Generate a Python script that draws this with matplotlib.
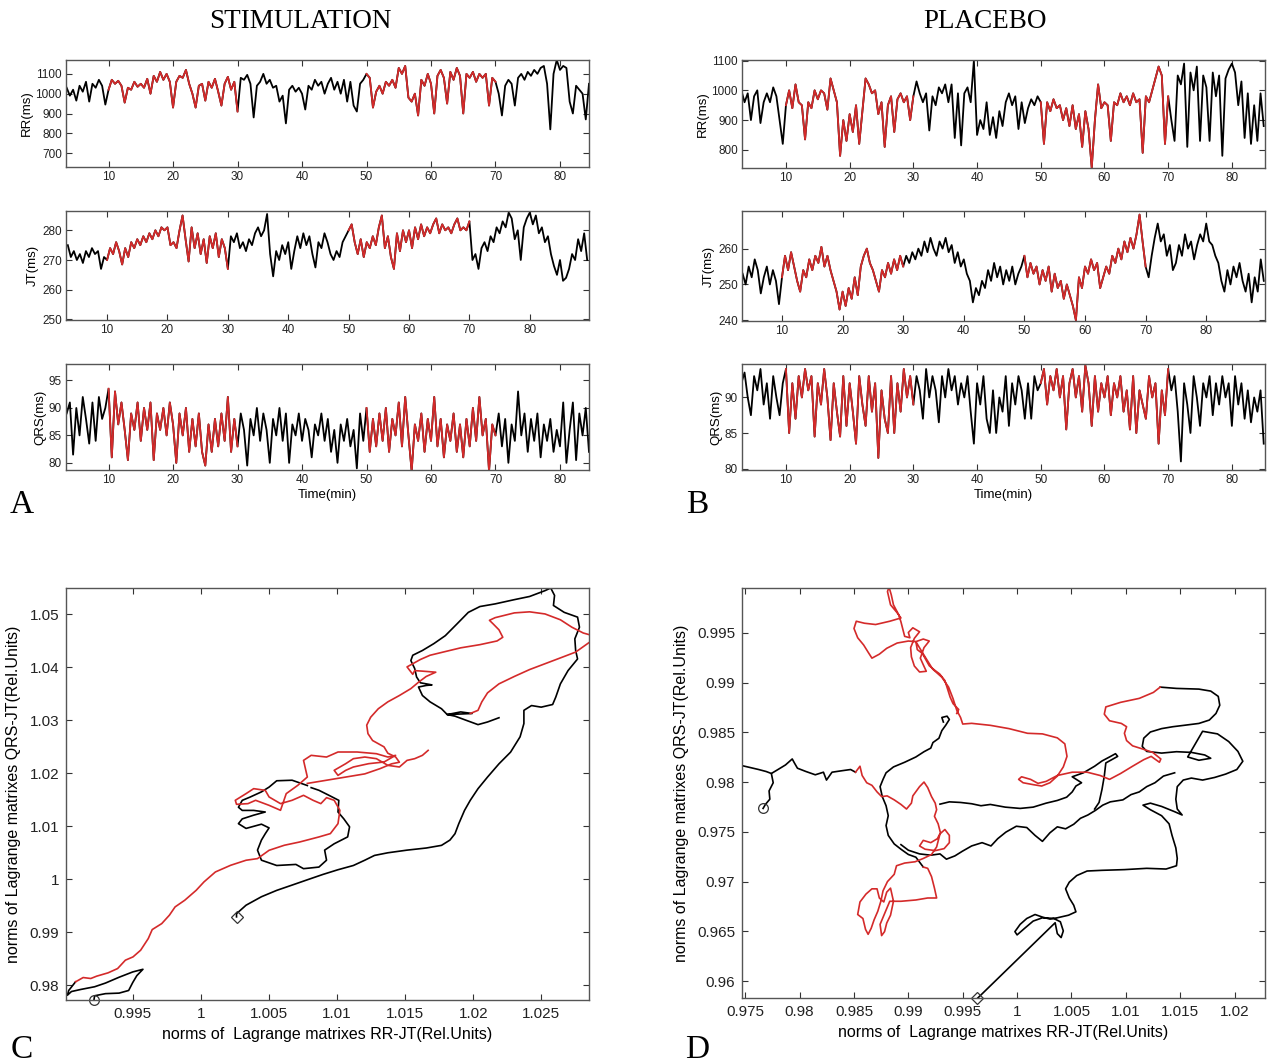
import numpy as np
import matplotlib
matplotlib.use("Agg")
import matplotlib.pyplot as plt
from matplotlib.ticker import FuncFormatter

plt.rcParams['font.family'] = ['Liberation Sans', 'DejaVu Sans']

RED = '#d42a2a'
red_windows = [(10, 30), (50, 70)]   # stimulation / placebo periods drawn in red

t0_rr_a, t0_jt_a, t0_qrs_a = 3.5, 3.5, 3.5
rr_a = [1030, 990, 1020, 965, 1040, 1010, 1060, 960, 1050, 1030, 1070, 1040, 945,
        1020, 1070, 1050, 1065, 1040, 955, 1030, 1020, 1060, 1035, 1050, 1030, 1075, 1000, 1090, 1060, 1110, 1070, 1100, 1060,
        930, 1060, 1090, 1080, 1120, 1050, 1000, 930, 1040, 1050, 965, 1060, 1030, 1075, 1010, 940, 1050, 1085, 1020, 1060,
        910, 1080, 1070, 1095, 1050, 880, 1040, 1060, 1100, 1050, 1070, 1030, 1040, 960, 990, 850, 1020, 1040, 1010, 1030,
        1000, 920, 1040, 1020, 1070, 1040, 1060, 1000, 1050, 1080, 1020, 1060, 1000, 1070, 960, 1060, 940, 910, 1050, 1070,
        1100, 1080, 930, 1010, 1040, 1000, 1060, 1040, 1070, 1030, 1130, 1100, 1140, 980, 960, 1000, 890, 1070, 1040, 1100,
        1050, 900, 1090, 1120, 1080, 950, 1110, 1070, 1130, 1090, 900, 1100, 1080, 1110, 1060, 1100, 1080, 1100, 940, 1080,
        1060, 1000, 890, 1040, 1070, 1050, 940, 1080, 1100, 1070, 1110, 1090, 1120, 1100, 1130, 1140, 1050, 820, 1100, 1170,
        1120, 1140, 1130, 960, 900, 1040, 1020, 1000, 870, 1050]
jt_a = [275, 271, 273, 270, 272, 269, 273, 271, 274, 272, 273, 267, 271,
        270, 274, 272, 276, 273, 268.5, 274, 271, 276, 274, 277, 275, 278, 276, 279, 277, 280, 278, 281, 280,
        281, 275, 276, 274, 280, 285, 277, 269.5, 281, 274, 279, 272, 277, 269, 278, 274, 279, 271, 277, 274,
        267, 278, 276, 279, 274, 276, 273, 277, 275, 279, 281, 278, 280, 285.5, 272, 264.5, 273, 270, 275, 272,
        276, 267, 273, 278, 274, 279, 275, 278, 272, 267.5, 276, 274, 279, 276, 272, 270, 273, 271, 276, 278,
        280, 282, 276, 272, 277, 271, 276, 274, 278, 275, 281, 285, 274, 278, 271, 267, 279, 273, 280, 276,
        280, 274, 281, 277, 282, 278, 281, 279, 282, 284, 279, 282, 280, 281, 279, 282, 284, 280, 281, 280,
        283, 270, 272, 267, 274, 276, 273, 278, 276, 281, 279, 283, 281, 286, 284, 277, 280, 270, 281, 284,
        286, 282, 285, 279, 281, 276, 278, 272, 268, 265, 270, 263, 264, 267, 272, 270, 277, 273, 279, 270]
qrs_a = [89, 91, 81.5, 90, 85, 92, 88, 83.5, 91, 84, 92, 88, 90,
         93.5, 81, 93, 87, 91, 86, 80.5, 89, 86, 91, 84, 90, 86, 91, 80.5, 89, 86, 90, 85, 91,
         87, 80, 89, 85, 90, 82, 88, 83, 89, 82, 79.5, 87, 82, 88, 83, 89, 84, 92, 82, 88,
         83, 89, 86, 79.5, 88, 85, 90, 84, 89, 86, 80, 88, 85, 90, 84, 89, 80, 87, 85, 89,
         84, 88, 86, 81, 87, 85, 89, 84, 88, 82, 86, 80, 87, 84, 88, 83, 86, 79, 89, 84,
         90, 82, 88, 83, 89, 84, 90, 82, 88, 85, 91, 83, 92, 85, 78.5, 87, 84, 89, 82, 88,
         84, 92, 83, 88, 81, 87, 84, 89, 82, 87, 81, 88, 83, 90, 84, 92, 85, 88, 78.5, 87,
         85, 89, 83, 88, 80, 87, 84, 93, 85, 89, 82, 88, 84, 89, 81, 87, 84, 88, 82, 86,
         83, 91, 80, 86, 91, 80.5, 89, 85, 90, 82]

t0_rr_b, t0_jt_b, t0_qrs_b = 3.0, 3.5, 3.0
rr_b = [1000, 960, 990, 900, 980, 1000, 890, 960, 990, 960, 1010, 980, 900, 820,
        950, 1000, 940, 1020, 960, 950, 835, 960, 940, 1000, 970, 1000, 990, 935, 1040, 1000, 960, 780, 900, 830,
        920, 860, 950, 820, 930, 1040, 1020, 990, 1000, 920, 960, 810, 950, 980, 860, 970, 990, 960, 980, 900,
        980, 1030, 990, 960, 990, 865, 980, 950, 1010, 990, 1020, 960, 1020, 840, 990, 815, 990, 1010, 960, 1100,
        850, 900, 870, 960, 850, 910, 840, 930, 880, 960, 990, 950, 980, 870, 960, 890, 940, 970, 950, 980,
        960, 820, 960, 930, 970, 940, 950, 900, 940, 880, 950, 870, 920, 810, 930, 870, 740, 900, 1020, 940,
        960, 950, 830, 960, 950, 990, 960, 980, 950, 990, 960, 970, 790, 980, 960, 1000, 1040, 1080, 1050, 820,
        980, 900, 830, 1050, 1020, 1090, 810, 1060, 1000, 1080, 830, 1050, 1010, 830, 1060, 980, 1050, 780, 1040, 1070,
        1090, 1060, 950, 1030, 840, 990, 820, 950, 830, 990, 880]
jt_b = [253, 250, 255, 252, 257, 254, 247.5, 252, 255, 250, 254, 251, 244.5,
        252, 258, 254, 259, 255, 251, 248, 254, 252, 257, 254, 258, 256, 260.5, 255, 258, 254, 251, 248, 243,
        248, 244, 249, 246, 252, 247, 255, 258, 260, 256, 254, 251, 248, 254, 252, 256, 253, 257, 254, 258,
        255, 258, 256, 259, 257, 260, 258, 262, 259, 263, 260, 258, 262, 260, 263, 259, 261, 256, 259, 255,
        257, 253, 251, 245, 249, 247, 251, 249, 254, 251, 256, 252, 255, 250, 254, 251, 255, 250, 253, 255,
        258, 252, 256, 253, 255, 250, 254, 251, 255, 248, 253, 249, 251, 246, 250, 247, 244, 240, 252, 249,
        255, 253, 257, 254, 256, 249, 252, 255, 253, 258, 256, 260, 257, 262, 259, 263, 260, 264, 269.5, 262,
        255, 252, 258, 263, 267, 262, 264, 258, 261, 254, 256, 261, 258, 264, 260, 262, 257, 261, 264, 262,
        267, 262, 261, 258, 256, 251, 248, 254, 250, 255, 252, 256, 251, 248, 253, 245, 252, 248, 257, 251]
qrs_b = [92, 93.5, 90, 87.5, 93, 91, 94, 89, 92, 87, 93, 90, 87.5, 92,
         94, 85, 92, 87, 93, 90, 94, 91, 93, 84.5, 92, 89, 94, 90, 84, 92, 88, 84.5, 93, 86,
         92, 88, 83.5, 93, 89, 86, 93, 88, 92, 81.5, 91, 87, 85, 93, 85, 92, 88, 94, 90, 93,
         89, 93, 91, 87, 94, 90, 93, 91, 86.5, 93, 90, 94, 91, 93, 89, 92, 90, 93, 88, 83.5,
         92, 89, 93, 87, 85, 91, 85, 90, 88, 93, 86, 92, 89, 93, 91, 87, 92, 87, 93, 91,
         92, 94, 89, 93, 91, 94, 90, 93, 85.5, 92, 94, 90, 93, 88, 94.5, 92, 86, 93, 88, 92,
         90, 93, 87.5, 92, 90, 93, 88, 91, 85.5, 93, 85, 91, 89, 87, 93, 90, 92, 83.5, 91, 87.5,
         94, 91, 93, 88, 81, 92, 89, 85, 93, 90, 86, 92, 90, 93, 87.5, 92, 89, 93, 90, 92,
         86, 93, 89, 92, 87, 91, 86.5, 90, 88, 91, 83.5]

# ---- phase trajectories (x = norm RR-JT, y = norm QRS-JT) ----
c_black1 = [(0.99215, 0.97715), (0.99220, 0.97800), (0.99300, 0.97840), (0.99400, 0.97850), (0.99470, 0.97900),
            (0.99500, 0.98050), (0.99530, 0.98180), (0.99575, 0.98300), (0.99500, 0.98250), (0.99400, 0.98150),
            (0.99300, 0.98040), (0.99220, 0.97970), (0.99120, 0.97920), (0.99050, 0.97880), (0.99020, 0.97810),
            (0.99030, 0.97900), (0.99080, 0.98063)]
c_red1 = [(0.99080, 0.98063), (0.99136, 0.98144), (0.99192, 0.98126), (0.99235, 0.98170), (0.99319, 0.98233),
          (0.99389, 0.98314), (0.99446, 0.98472), (0.99502, 0.98534), (0.99558, 0.98660), (0.99614, 0.98880),
          (0.99643, 0.99050), (0.99713, 0.99163), (0.99769, 0.99321), (0.99811, 0.99478), (0.99882, 0.99604),
          (0.99966, 0.99792), (1.00023, 0.99950), (1.00107, 1.00138), (1.00219, 1.00264), (1.00332, 1.00359),
          (1.00416, 1.00390), (1.00501, 1.00547), (1.00613, 1.00642), (1.00726, 1.00704), (1.00867, 1.00799),
          (1.00951, 1.00862), (1.01007, 1.01050), (1.01021, 1.01302), (1.00979, 1.01491), (1.00923, 1.01541),
          (1.00881, 1.01428), (1.00824, 1.01491), (1.00754, 1.01585), (1.00670, 1.01491), (1.00585, 1.01428),
          (1.00501, 1.01554), (1.00473, 1.01679), (1.00388, 1.01711), (1.00332, 1.01617), (1.00253, 1.01491),
          (1.00262, 1.01415), (1.00346, 1.01428), (1.00402, 1.01491), (1.00501, 1.01396), (1.00585, 1.01302),
          (1.00627, 1.01617), (1.00712, 1.01774), (1.00782, 1.01931), (1.00754, 1.02245), (1.00810, 1.02340),
          (1.00923, 1.02308), (1.01007, 1.02403), (1.01148, 1.02403), (1.01289, 1.02371), (1.01373, 1.02308),
          (1.01430, 1.02340), (1.01345, 1.02214), (1.01233, 1.02183), (1.01120, 1.02120), (1.01064, 1.02057),
          (1.01007, 1.01962), (1.00979, 1.02057), (1.01064, 1.02183), (1.01120, 1.02277), (1.01204, 1.02308),
          (1.01289, 1.02277), (1.01373, 1.02151), (1.01458, 1.02120), (1.01514, 1.02245), (1.01570, 1.02277),
          (1.01627, 1.02340), (1.01669, 1.02434)]
c_black2 = [(1.00782, 1.0177), (1.00670, 1.0187), (1.00557, 1.0186), (1.00501, 1.0174), (1.00445, 1.0165),
            (1.00360, 1.0155), (1.00304, 1.0149), (1.00276, 1.0136), (1.00304, 1.0130), (1.00388, 1.0130),
            (1.00473, 1.0127), (1.00388, 1.0121), (1.00304, 1.0114), (1.00276, 1.0105), (1.00332, 1.0096),
            (1.00445, 1.0104), (1.00501, 1.0097), (1.00473, 1.0086), (1.00445, 1.0074), (1.00416, 1.0055),
            (1.00445, 1.0036), (1.00557, 1.0026), (1.00698, 1.0028), (1.00754, 1.0020), (1.00867, 1.0023),
            (1.00923, 1.0036), (1.00909, 1.0055), (1.00979, 1.0067), (1.01078, 1.0080), (1.01092, 1.0099),
            (1.01050, 1.0114), (1.01007, 1.0127), (1.01013, 1.0149), (1.00937, 1.0159), (1.00867, 1.0168),
            (1.00810, 1.0173)]
c_red2 = [(1.00782, 1.0181), (1.00923, 1.0187), (1.01064, 1.0193), (1.01204, 1.0199), (1.01317, 1.0209),
          (1.01401, 1.0218), (1.01458, 1.0221), (1.01430, 1.0231), (1.01373, 1.0238), (1.01345, 1.0250),
          (1.01261, 1.0262), (1.01227, 1.0275), (1.01218, 1.0291), (1.01247, 1.0306), (1.01303, 1.0322),
          (1.01373, 1.0335), (1.01458, 1.0347), (1.01542, 1.0360), (1.01598, 1.0372), (1.01655, 1.0383),
          (1.01725, 1.0391), (1.01627, 1.0393), (1.01570, 1.0394), (1.01556, 1.0387), (1.01514, 1.0401),
          (1.01556, 1.0407), (1.01612, 1.0415), (1.01683, 1.0423), (1.01795, 1.0430), (1.01908, 1.0437),
          (1.02049, 1.0443), (1.02175, 1.0450), (1.02217, 1.0457), (1.02189, 1.0471), (1.02147, 1.0482),
          (1.02119, 1.0489), (1.02161, 1.0494), (1.02302, 1.0503), (1.02414, 1.0505), (1.02527, 1.0501),
          (1.02640, 1.0490), (1.02724, 1.0476), (1.02808, 1.0465), (1.02920, 1.0457), (1.02856, 1.0448),
          (1.02752, 1.0429), (1.02640, 1.0418), (1.02527, 1.0407), (1.02414, 1.0396), (1.02302, 1.0383),
          (1.02189, 1.0369), (1.02105, 1.0352), (1.02063, 1.0335), (1.02035, 1.0319), (1.01978, 1.0313)]
c_black3 = [(1.02189, 1.0305), (1.02105, 1.0297), (1.02035, 1.0292), (1.01950, 1.0300), (1.01866, 1.0308),
            (1.01809, 1.0311), (1.01908, 1.0316), (1.01992, 1.0313), (1.01809, 1.0311), (1.01767, 1.0322),
            (1.01683, 1.0335), (1.01627, 1.0347), (1.01598, 1.0363), (1.01655, 1.0366), (1.01697, 1.0367),
            (1.01612, 1.0371), (1.01584, 1.0382), (1.01570, 1.0398), (1.01542, 1.0413), (1.01556, 1.0423),
            (1.01627, 1.0432), (1.01711, 1.0445), (1.01795, 1.0460), (1.01880, 1.0482), (1.01964, 1.0504),
            (1.02049, 1.0515), (1.02161, 1.0520), (1.02302, 1.0528), (1.02414, 1.0534), (1.02527, 1.0545),
            (1.02569, 1.0550), (1.02597, 1.0536), (1.02589, 1.0517), (1.02668, 1.0504), (1.02766, 1.0495),
            (1.02780, 1.0476), (1.02746, 1.0454), (1.02752, 1.0432), (1.02766, 1.0416), (1.02696, 1.0394),
            (1.02640, 1.0369), (1.02606, 1.0344), (1.02583, 1.0330), (1.02499, 1.0325), (1.02428, 1.0328),
            (1.02372, 1.0319), (1.02372, 1.0294), (1.02344, 1.0269), (1.02274, 1.0240), (1.02189, 1.0218),
            (1.02105, 1.0193), (1.02035, 1.0171), (1.01978, 1.0149), (1.01936, 1.0130), (1.01894, 1.0105),
            (1.01866, 1.0086), (1.01829, 1.0074), (1.01767, 1.0064), (1.01655, 1.0059), (1.01514, 1.0055),
            (1.01373, 1.0050), (1.01275, 1.0045), (1.01204, 1.0036), (1.01120, 1.0026), (1.01007, 1.0018),
            (1.00895, 1.0009), (1.00782, 0.9999), (1.00670, 0.9989), (1.00557, 0.9979), (1.00445, 0.9967),
            (1.00332, 0.9951), (1.00262, 0.9935), (1.00262, 0.9929)]

d_black1a = [(0.97664, 0.97735), (0.97685, 0.97775), (0.97726, 0.97828), (0.97719, 0.97911), (0.97757, 0.97993),
             (0.97740, 0.98086), (0.97801, 0.98126), (0.97870, 0.98172), (0.97932, 0.98232), (0.97952, 0.98192),
             (0.97980, 0.98139), (0.98058, 0.98106), (0.98144, 0.98073), (0.98219, 0.98099), (0.98247, 0.98020),
             (0.98298, 0.98099), (0.98384, 0.98113), (0.98469, 0.98126), (0.98514, 0.98099)]
d_black1b = [(0.97466, 0.98166), (0.97545, 0.98146), (0.97623, 0.98126), (0.97692, 0.98106), (0.97740, 0.98086)]
d_red1 = [(0.98514, 0.98099), (0.98555, 0.98159), (0.98575, 0.98066), (0.98617, 0.97993), (0.98665, 0.97967),
          (0.98712, 0.97901), (0.98754, 0.97854), (0.98805, 0.97861), (0.98870, 0.97821), (0.98932, 0.97775),
          (0.98983, 0.97729), (0.99028, 0.97788), (0.99041, 0.97861), (0.99103, 0.97954), (0.99144, 0.98000),
          (0.99178, 0.97944), (0.99213, 0.97854), (0.99247, 0.97788), (0.99260, 0.97722), (0.99240, 0.97656),
          (0.99274, 0.97580), (0.99295, 0.97490), (0.99267, 0.97431), (0.99206, 0.97391), (0.99137, 0.97414),
          (0.99103, 0.97358), (0.99154, 0.97325), (0.99247, 0.97311), (0.99329, 0.97331), (0.99377, 0.97391),
          (0.99377, 0.97464), (0.99336, 0.97523), (0.99291, 0.97480), (0.99260, 0.97348), (0.99213, 0.97272),
          (0.99137, 0.97232), (0.99062, 0.97199), (0.98966, 0.97186), (0.98891, 0.97159), (0.98870, 0.97073),
          (0.98808, 0.97000), (0.98767, 0.96907), (0.98747, 0.96802), (0.98719, 0.96702), (0.98685, 0.96616),
          (0.98658, 0.96530), (0.98630, 0.96470), (0.98606, 0.96520), (0.98582, 0.96629), (0.98534, 0.96669),
          (0.98555, 0.96795), (0.98610, 0.96874), (0.98665, 0.96927), (0.98712, 0.96927), (0.98733, 0.96835),
          (0.98774, 0.96795), (0.98801, 0.96894), (0.98836, 0.96934), (0.98863, 0.96802), (0.98836, 0.96662),
          (0.98801, 0.96583), (0.98781, 0.96497), (0.98754, 0.96457), (0.98740, 0.96570), (0.98829, 0.96802),
          (0.98932, 0.96802), (0.99069, 0.96815), (0.99178, 0.96835), (0.99260, 0.96835), (0.99240, 0.96934),
          (0.99213, 0.97050), (0.99178, 0.97133), (0.99137, 0.97146)]
d_black2 = [(0.99137, 0.97146), (0.99069, 0.97245), (0.99000, 0.97272), (0.98932, 0.97325), (0.98870, 0.97378),
            (0.98815, 0.97464), (0.98795, 0.97563), (0.98815, 0.97662), (0.98795, 0.97762), (0.98760, 0.97854),
            (0.98740, 0.97954), (0.98767, 0.98027), (0.98795, 0.98093), (0.98863, 0.98152), (0.98966, 0.98199),
            (0.99069, 0.98252), (0.99144, 0.98305), (0.99206, 0.98341), (0.99226, 0.98397), (0.99281, 0.98440),
            (0.99308, 0.98517), (0.99343, 0.98570), (0.99377, 0.98629), (0.99356, 0.98662), (0.99308, 0.98649),
            (0.99322, 0.98603)]
d_red2 = [(0.99445, 0.98689), (0.99463, 0.98729), (0.99411, 0.98788), (0.99384, 0.98854), (0.99360, 0.98937),
          (0.99336, 0.99020), (0.99288, 0.99086), (0.99240, 0.99126), (0.99192, 0.99169), (0.99158, 0.99235),
          (0.99130, 0.99291), (0.99082, 0.99331), (0.99069, 0.99411), (0.99137, 0.99437), (0.99192, 0.99417),
          (0.99144, 0.99351), (0.99110, 0.99245), (0.99137, 0.99179), (0.99165, 0.99113), (0.99103, 0.99106),
          (0.99055, 0.99166), (0.99028, 0.99258), (0.99021, 0.99351), (0.99055, 0.99444), (0.99103, 0.99510),
          (0.99041, 0.99550), (0.99000, 0.99503), (0.99014, 0.99450), (0.98966, 0.99464), (0.98932, 0.99609),
          (0.98911, 0.99682), (0.98863, 0.99781), (0.98843, 0.99881), (0.98822, 0.99960), (0.98808, 0.99914),
          (0.98836, 0.99781), (0.98891, 0.99709), (0.98932, 0.99649), (0.98829, 0.99616), (0.98699, 0.99583),
          (0.98596, 0.99596), (0.98521, 0.99616), (0.98500, 0.99543), (0.98534, 0.99450), (0.98589, 0.99377),
          (0.98630, 0.99305), (0.98665, 0.99245), (0.98733, 0.99285), (0.98801, 0.99344), (0.98897, 0.99397),
          (0.99000, 0.99417), (0.99069, 0.99411), (0.99130, 0.99300), (0.99223, 0.99136), (0.99308, 0.99053),
          (0.99370, 0.98954), (0.99411, 0.98838), (0.99445, 0.98722), (0.99480, 0.98649), (0.99500, 0.98583),
          (0.99582, 0.98590), (0.99754, 0.98570), (0.99925, 0.98537), (1.00096, 0.98490), (1.00233, 0.98484),
          (1.00370, 0.98444), (1.00439, 0.98384), (1.00459, 0.98258), (1.00425, 0.98152), (1.00370, 0.98060),
          (1.00302, 0.97993), (1.00226, 0.97960), (1.00148, 0.97974), (1.00055, 0.97993), (1.00014, 0.98027),
          (1.00041, 0.98053), (1.00124, 0.98027), (1.00192, 0.97987), (1.00268, 0.98007), (1.00370, 0.98066),
          (1.00507, 0.98099), (1.00644, 0.98099), (1.00764, 0.98066), (1.00850, 0.98027), (1.00952, 0.98086),
          (1.01062, 0.98159), (1.01165, 0.98225), (1.01233, 0.98258), (1.01309, 0.98199), (1.01322, 0.98232),
          (1.01247, 0.98298), (1.01158, 0.98331), (1.01062, 0.98364), (1.01007, 0.98417), (1.00987, 0.98490),
          (1.01007, 0.98556), (1.00959, 0.98589), (1.00850, 0.98616), (1.00802, 0.98682), (1.00816, 0.98755),
          (1.00952, 0.98801), (1.01124, 0.98841), (1.01254, 0.98901), (1.01316, 0.98954)]
d_black3 = [(1.01316, 0.98954), (1.01466, 0.98941), (1.01672, 0.98934), (1.01781, 0.98914), (1.01850, 0.98861),
            (1.01864, 0.98772), (1.01829, 0.98689), (1.01768, 0.98623), (1.01672, 0.98589), (1.01535, 0.98570),
            (1.01432, 0.98556), (1.01329, 0.98537), (1.01226, 0.98503), (1.01165, 0.98441), (1.01151, 0.98358),
            (1.01192, 0.98308), (1.01329, 0.98291), (1.01466, 0.98305), (1.01603, 0.98298), (1.01726, 0.98272),
            (1.01781, 0.98239), (1.01672, 0.98219), (1.01569, 0.98252), (1.01706, 0.98510), (1.01843, 0.98484),
            (1.01946, 0.98407), (1.02031, 0.98308), (1.02076, 0.98209), (1.02021, 0.98126), (1.01918, 0.98080),
            (1.01816, 0.98046), (1.01706, 0.98020), (1.01603, 0.98040), (1.01528, 0.98020), (1.01473, 0.97954),
            (1.01460, 0.97828), (1.01473, 0.97729), (1.01518, 0.97669), (1.01449, 0.97702), (1.01329, 0.97755),
            (1.01226, 0.97788), (1.01158, 0.97768), (1.01226, 0.97722), (1.01329, 0.97662), (1.01398, 0.97580),
            (1.01425, 0.97464), (1.01460, 0.97338), (1.01473, 0.97232), (1.01466, 0.97159), (1.01370, 0.97126),
            (1.01192, 0.97133), (1.00987, 0.97120), (1.00781, 0.97113), (1.00644, 0.97106), (1.00548, 0.97060),
            (1.00480, 0.96994), (1.00446, 0.96927), (1.00480, 0.96835), (1.00521, 0.96762), (1.00541, 0.96696),
            (1.00473, 0.96662), (1.00370, 0.96636), (1.00302, 0.96623), (1.00233, 0.96643), (1.00165, 0.96669),
            (1.00089, 0.96629), (1.00028, 0.96570), (0.99980, 0.96497), (1.00000, 0.96464), (1.00069, 0.96530),
            (1.00148, 0.96603), (1.00233, 0.96636), (1.00336, 0.96630), (1.00398, 0.96596), (1.00425, 0.96504),
            (1.00405, 0.96437), (1.00370, 0.96477), (1.00350, 0.96586), (0.99634, 0.95825)]
d_black4 = [(0.99291, 0.97778), (0.99377, 0.97801), (0.99480, 0.97795), (0.99582, 0.97782), (0.99668, 0.97762),
            (0.99754, 0.97775), (0.99891, 0.97748), (1.00028, 0.97735), (1.00148, 0.97748), (1.00267, 0.97788),
            (1.00370, 0.97815), (1.00456, 0.97848), (1.00507, 0.97901), (1.00541, 0.97960), (1.00593, 0.97993),
            (1.00507, 0.98053), (1.00610, 0.98093), (1.00713, 0.98159), (1.00781, 0.98212), (1.00850, 0.98252),
            (1.00905, 0.98285), (1.00925, 0.98258), (1.00816, 0.98192), (1.00802, 0.98060), (1.00781, 0.97927),
            (1.00754, 0.97795), (1.00713, 0.97729)]
d_black5 = [(0.98932, 0.97371), (0.99000, 0.97315), (0.99103, 0.97278), (0.99206, 0.97265), (0.99291, 0.97278),
            (0.99350, 0.97225), (0.99428, 0.97258), (0.99497, 0.97305), (0.99582, 0.97358), (0.99678, 0.97391),
            (0.99760, 0.97358), (0.99822, 0.97431), (0.99897, 0.97497), (0.99993, 0.97556), (1.00089, 0.97543),
            (1.00165, 0.97464), (1.00233, 0.97404), (1.00302, 0.97490), (1.00370, 0.97550), (1.00446, 0.97530),
            (1.00521, 0.97576), (1.00583, 0.97636), (1.00651, 0.97669), (1.00720, 0.97715), (1.00788, 0.97768),
            (1.00857, 0.97801), (1.00973, 0.97821), (1.01048, 0.97874), (1.01124, 0.97901), (1.01192, 0.97954),
            (1.01268, 0.97993), (1.01346, 0.98060), (1.01449, 0.98093)]

W, H = 1269, 1063
fig = plt.figure(figsize=(W / 100, H / 100), dpi=100)


def add_ax(x0, y0, x1, y1):
    # pixel box -> figure fraction
    return fig.add_axes([x0 / W, 1 - y1 / H, (x1 - x0) / W, (y1 - y0) / H])


def style(ax, xlim, ylim, xticks, yticks, fs, pad=3):
    ax.set_xlim(*xlim)
    ax.set_ylim(*ylim)
    ax.set_xticks(xticks)
    ax.set_yticks(yticks)
    fmt = FuncFormatter(lambda v, p: f'{v:g}')
    ax.xaxis.set_major_formatter(fmt)
    ax.yaxis.set_major_formatter(fmt)
    ax.tick_params(direction='in', top=True, right=True, length=4, width=0.8,
                   labelsize=fs, colors='#333333', labelcolor='#222222', pad=pad)
    for s in ax.spines.values():
        s.set_color('#555555')
        s.set_linewidth(1.0)


def draw_series(ax, t0, vals):
    v = np.asarray(vals, float)
    t = t0 + 0.5 * np.arange(len(v))
    ax.plot(t, v, color='black', lw=1.3)
    red = np.full_like(v, np.nan)
    for a, b in red_windows:
        m = (t >= a) & (t <= b)
        red[m] = v[m]
    ax.plot(t, red, color=RED, lw=1.3)


ticks_t = [10, 20, 30, 40, 50, 60, 70, 80]
TS_FS, TS_LAB = 8.5, 9.5

# left column (stimulation)
ax = add_ax(66, 60, 589, 167)
draw_series(ax, t0_rr_a, rr_a)
style(ax, (3.4, 84.5), (630, 1170), ticks_t, [700, 800, 900, 1000, 1100], TS_FS)
ax.set_ylabel('RR(ms)', fontsize=TS_LAB, labelpad=2)

ax = add_ax(66, 211, 589, 320)
draw_series(ax, t0_jt_a, jt_a)
style(ax, (3.2, 89.8), (249.8, 286.5), ticks_t, [250, 260, 270, 280], TS_FS)
ax.set_ylabel('JT(ms)', fontsize=TS_LAB, labelpad=2)

ax = add_ax(66, 364, 589, 470)
draw_series(ax, t0_qrs_a, qrs_a)
style(ax, (3.4, 84.5), (78.7, 98), ticks_t, [80, 85, 90, 95], TS_FS)
ax.set_ylabel('QRS(ms)', fontsize=TS_LAB, labelpad=2)
ax.set_xlabel('Time(min)', fontsize=TS_LAB, labelpad=2)

# right column (placebo)
ax = add_ax(742, 60, 1265, 168)
draw_series(ax, t0_rr_b, rr_b)
style(ax, (3.1, 85.2), (739, 1102), ticks_t, [800, 900, 1000, 1100], TS_FS)
ax.set_ylabel('RR(ms)', fontsize=TS_LAB, labelpad=2)

ax = add_ax(742, 211, 1265, 321)
draw_series(ax, t0_jt_b, jt_b)
style(ax, (3.4, 89.7), (239.8, 270.5), ticks_t, [240, 250, 260], TS_FS)
ax.set_ylabel('JT(ms)', fontsize=TS_LAB, labelpad=2)

ax = add_ax(742, 364, 1265, 470)
draw_series(ax, t0_qrs_b, qrs_b)
style(ax, (3.1, 85.2), (79.8, 94.7), ticks_t, [80, 85, 90], TS_FS)
ax.set_ylabel('QRS(ms)', fontsize=TS_LAB, labelpad=2)
ax.set_xlabel('Time(min)', fontsize=TS_LAB, labelpad=2)


def draw_path(ax, pts, color):
    xs, ys = zip(*pts)
    ax.plot(xs, ys, color=color, lw=1.2, clip_on=True)


xlab = 'norms of  Lagrange matrixes RR-JT(Rel.Units)'
ylab = 'norms of Lagrange matrixes QRS-JT(Rel.Units)'
PH_FS, PH_LAB = 11, 11.5

ax = add_ax(66, 588, 589, 1000)
for p in (c_black1, c_black2, c_black3):
    draw_path(ax, p, 'black')
for p in (c_red1, c_red2):
    draw_path(ax, p, RED)
ax.plot(*c_black1[0], marker='o', ms=7, mfc='none', mec='#333333', mew=0.9, clip_on=False)
ax.plot(*c_black3[-1], marker='D', ms=6, mfc='none', mec='#333333', mew=0.9)
style(ax, (0.9901, 1.0285), (0.9772, 1.0550),
      [0.995, 1.0, 1.005, 1.01, 1.015, 1.02, 1.025],
      [0.98, 0.99, 1.0, 1.01, 1.02, 1.03, 1.04, 1.05], PH_FS, pad=5)
ax.set_xlabel(xlab, fontsize=PH_LAB, labelpad=4)
ax.set_ylabel(ylab, fontsize=PH_LAB, labelpad=6)

ax = add_ax(742, 588, 1265, 998)
for p in (d_black1a, d_black1b, d_black2, d_black3, d_black4, d_black5):
    draw_path(ax, p, 'black')
for p in (d_red1, d_red2):
    draw_path(ax, p, RED)
ax.plot(*d_black1a[0], marker='o', ms=7, mfc='none', mec='#333333', mew=0.9)
ax.plot(*d_black3[-1], marker='D', ms=6, mfc='none', mec='#333333', mew=0.9, clip_on=False)
style(ax, (0.9747, 1.0228), (0.9583, 0.9995),
      [0.975, 0.98, 0.985, 0.99, 0.995, 1.0, 1.005, 1.01, 1.015, 1.02],
      [0.96, 0.965, 0.97, 0.975, 0.98, 0.985, 0.99, 0.995], PH_FS, pad=5)
ax.set_xlabel(xlab, fontsize=PH_LAB, labelpad=4)
ax.set_ylabel(ylab, fontsize=PH_LAB, labelpad=6)

# titles and panel letters
serif = ['Liberation Serif', 'DejaVu Serif']
fig.text(300 / W, 1 - 22 / H, 'STIMULATION', ha='center', va='center', family=serif, fontsize=19.5)
fig.text(985 / W, 1 - 22 / H, 'PLACEBO', ha='center', va='center', family=serif, fontsize=19.5)
for letter, x, y in [('A', 22, 505), ('B', 697, 505), ('C', 22, 1050), ('D', 697, 1050)]:
    fig.text(x / W, 1 - y / H, letter, ha='center', va='center', family=serif, fontsize=24)

fig.savefig('out.png', dpi=100)
